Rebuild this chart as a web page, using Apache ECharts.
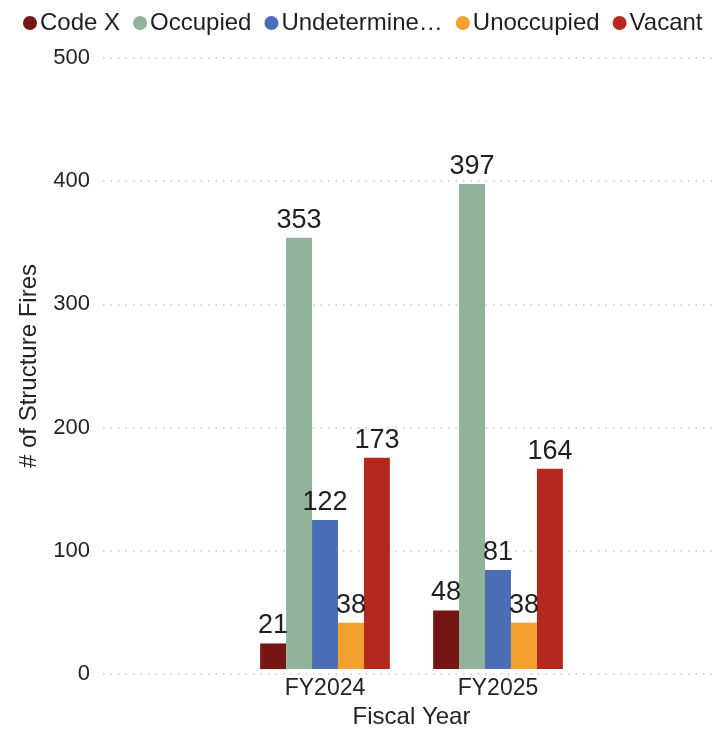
<!DOCTYPE html>
<html>
<head>
<meta charset="utf-8">
<script src="https://cdn.jsdelivr.net/npm/echarts@6/dist/echarts.min.js"></script>
<style>
html, body { margin: 0; padding: 0; background: #fff; }
#chart { width: 714px; height: 734px; }
</style>
</head>
<body>
<div id="chart"></div>
<script>
// fiscal years on the x axis
var years = ['FY2024', 'FY2025'];
var seriesNames = ['Code X', 'Occupied', 'Undetermined', 'Unoccupied', 'Vacant'];
var seriesColors = ['#751614', '#91b39a', '#4a6db5', '#f2a130', '#b5281f'];
// values per series, one per fiscal year
var codeX = [21, 48];
var occupied = [353, 397];
var undetermined = [122, 81];
var unoccupied = [38, 38];
var vacant = [173, 164];
var yTicks = { min: 0, max: 500, interval: 100 };

var values = [codeX, occupied, undetermined, unoccupied, vacant];
var font = 'Liberation Sans, Arial, sans-serif';

let chart = echarts.init(document.getElementById('chart'));

let series = seriesNames.map(function (name, i) {
    return {
        name: name,
        type: 'bar',
        xAxisIndex: 1,
        yAxisIndex: 1,
        barGap: '0%',
        barCategoryGap: '25%',
        itemStyle: { color: seriesColors[i] },
        label: {
            show: true,
            position: 'top',
            distance: 4,
            color: '#1f1f1f',
            fontSize: 27,
            fontFamily: font
        },
        data: values[i]
    };
});

let option = {
    animation: false,
    legend: {
        top: 6,
        left: 18,
        right: 0,
        icon: 'circle',
        itemWidth: 14,
        itemHeight: 14,
        itemGap: 13,
        textStyle: { color: '#1f1f1f', fontSize: 24, fontFamily: font, padding: [0, 0, 0, -2] },
        formatter: function (name) {
            return name === 'Undetermined' ? 'Undetermine\u2026' : name;
        },
        data: seriesNames
    },
    grid: [
        // full-width grid only for the y axis and gridlines
        { left: 103, right: 0, top: 58, bottom: 60 },
        // narrower grid holding the bars
        { left: 238.5, width: 346, top: 58, bottom: 60 }
    ],
    xAxis: [
        { gridIndex: 0, type: 'category', data: years, show: false },
        {
            gridIndex: 1,
            type: 'category',
            data: years,
            axisLine: { show: false },
            axisTick: { show: false },
            axisLabel: { color: '#252423', fontSize: 23, fontFamily: font, margin: 8 },
            name: 'Fiscal Year',
            nameLocation: 'middle',
            nameGap: 34,
            nameTextStyle: { color: '#252423', fontSize: 24, fontFamily: font }
        }
    ],
    yAxis: [
        {
            gridIndex: 0,
            type: 'value',
            min: yTicks.min,
            max: yTicks.max,
            interval: yTicks.interval,
            axisLine: { show: false },
            axisTick: { show: false },
            axisLabel: { color: '#252423', fontSize: 22, fontFamily: font, margin: 13 },
            splitLine: { show: true, lineStyle: { color: '#c8c8c8', type: [1.5, 6], width: 1.5 } },
            name: '# of Structure Fires',
            nameLocation: 'middle',
            nameGap: 62,
            nameTextStyle: { color: '#252423', fontSize: 24, fontFamily: font }
        },
        {
            gridIndex: 1,
            type: 'value',
            min: yTicks.min,
            max: yTicks.max,
            interval: yTicks.interval,
            show: false,
            splitLine: { show: false }
        }
    ],
    series: series
};
chart.setOption(option, true);
</script>
</body>
</html>
